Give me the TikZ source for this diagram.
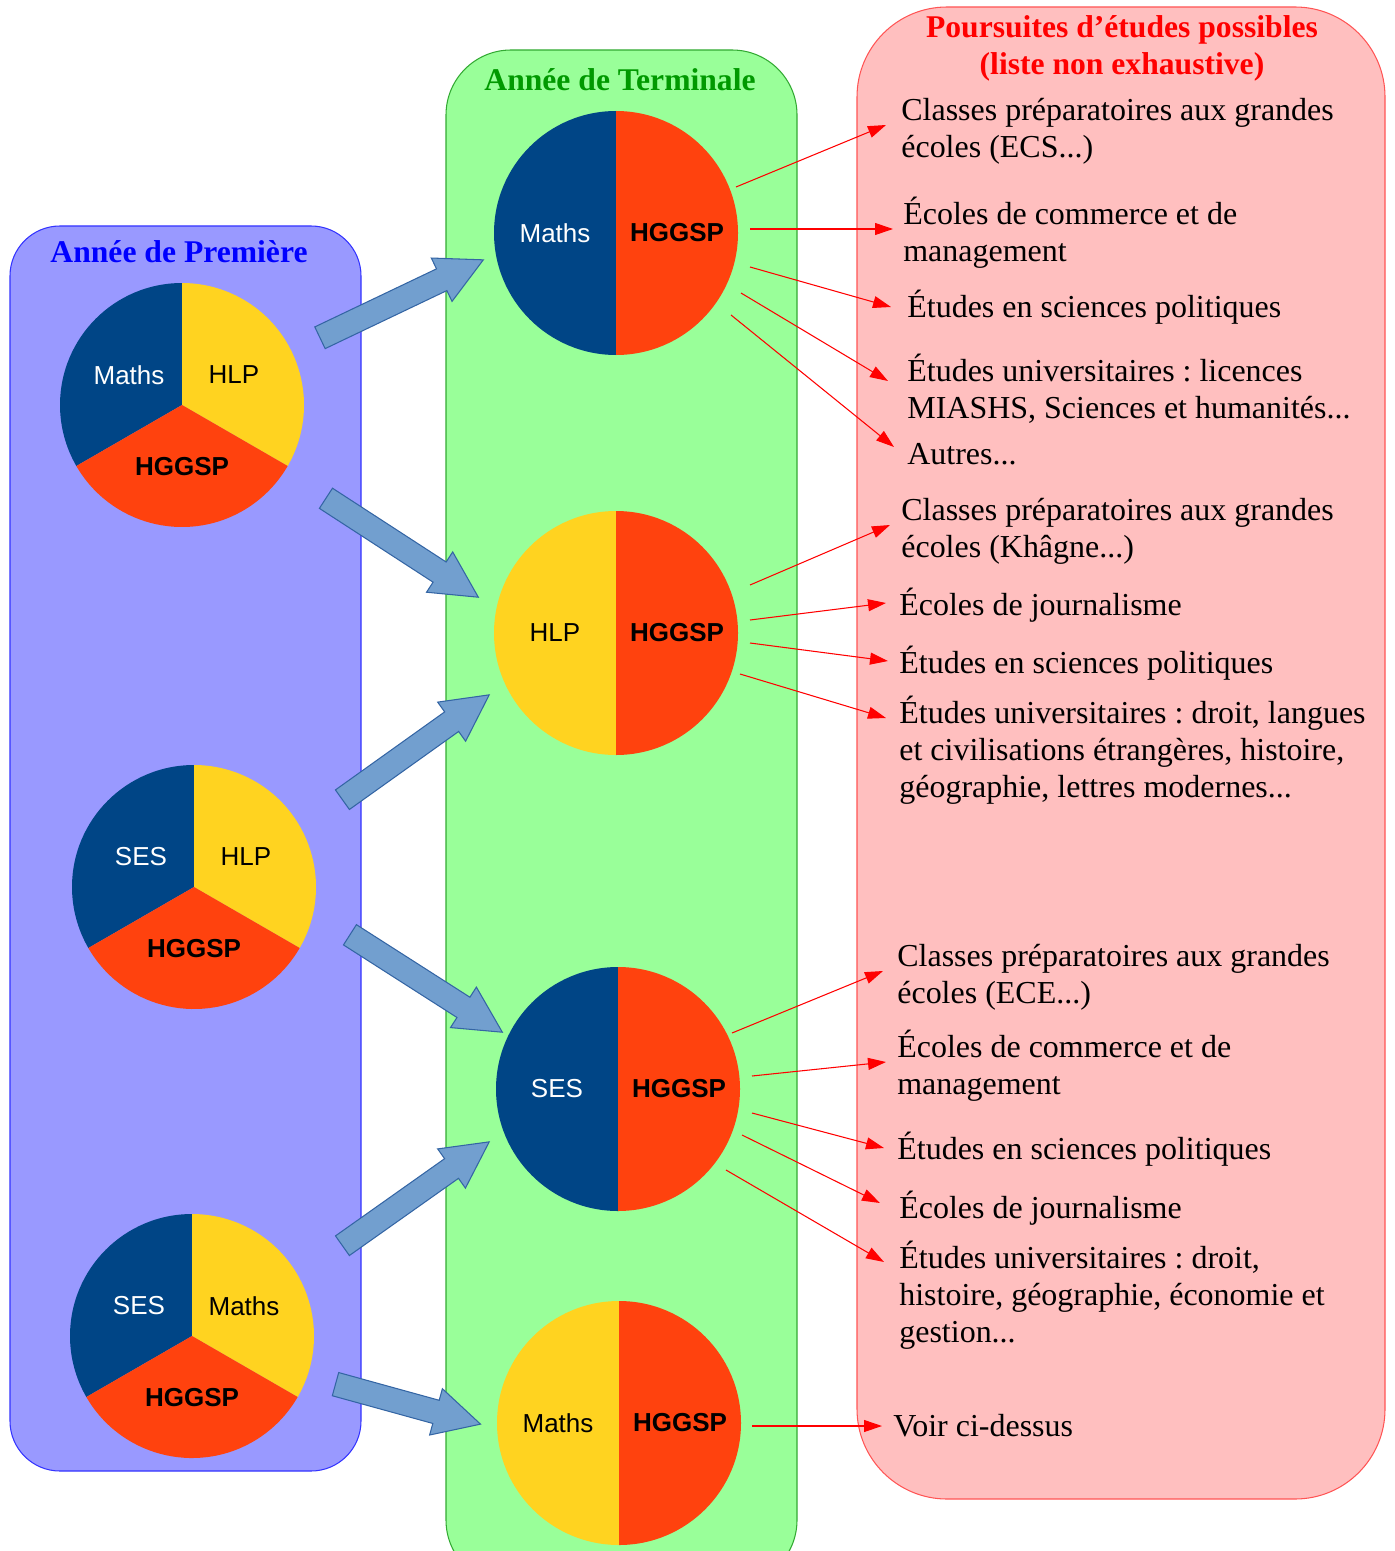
\documentclass[tikz,border=0pt]{standalone}
\usepackage{fontspec}
\setmainfont{Liberation Serif}
\setsansfont{Liberation Sans}
\frenchspacing
\usetikzlibrary{arrows.meta,shapes.arrows,calc,positioning}

\definecolor{bleupie}{HTML}{004586}
\definecolor{jaunepie}{HTML}{FFD320}
\definecolor{rougepie}{HTML}{FF420E}
\definecolor{fondpremiere}{HTML}{9999FF}
\definecolor{bordpremiere}{HTML}{3333FF}
\definecolor{fondterminale}{HTML}{99FF99}
\definecolor{bordterminale}{HTML}{33AA33}
\definecolor{fondsuite}{HTML}{FFBFBF}
\definecolor{bordsuite}{HTML}{FF5555}
\definecolor{fondfleche}{HTML}{729FCF}
\definecolor{bordfleche}{HTML}{3465A4}
\definecolor{vertitre}{HTML}{009900}

\begin{document}
\begin{tikzpicture}[x=0.02cm,y=-0.02cm,
	item/.style={anchor=west,inner sep=0pt,align=left,font=\fontsize{18.2}{21}\selectfont},
	etiq/.style={inner sep=0pt,font=\sffamily\fontsize{14.8}{17}\selectfont},
	etiqgras/.style={etiq,font=\sffamily\bfseries\fontsize{14.8}{17}\selectfont},
	titre/.style={inner sep=0pt,align=center,font=\bfseries\fontsize{18}{21}\selectfont},
	fleche/.style={red,line width=0.6pt,-{Triangle[length=0.36cm,width=0.24cm]}},
	grosse/.style={single arrow,draw=bordfleche,fill=fondfleche,line width=0.6pt,
		inner xsep=0pt,inner ysep=0.23cm,minimum width=0pt,
		single arrow head extend=0.24cm,single arrow tip angle=55,anchor=tail}]
	
	\useasboundingbox (0,0) rectangle (1394,1551);
	\clip (0,0) rectangle (1394,1551);
	
	% les trois colonnes
	\draw[fill=fondpremiere,draw=bordpremiere,line width=0.6pt,rounded corners=1cm] (10,226) rectangle (361,1471);
	\draw[fill=fondterminale,draw=bordterminale,line width=0.6pt,rounded corners=1.3cm] (446,50) rectangle (797,1585);
	\draw[fill=fondsuite,draw=bordsuite,line width=0.6pt,rounded corners=1.8cm] (857,7) rectangle (1385,1499);
	
	\node[titre,text=blue] (tprem) at (179,252) {Année de Première};
	\node[titre,text=vertitre] (tterm) at (620,80) {Année de Terminale};
	\node[titre,text=red] (tsuite) at (1122,48) {Poursuites d’études possibles\\(liste non exhaustive)};
	
	% Première
	\coordinate (p1) at (182,405);
	\coordinate (p2) at (194,887);
	\coordinate (p3) at (192,1336);
	
	\fill[bleupie] (p1) -- ++(-90:122) arc (-90:-210:122) -- cycle;
	\fill[jaunepie] (p1) -- ++(30:122) arc (30:-90:122) -- cycle;
	\fill[rougepie] (p1) -- ++(-210:122) arc (-210:-330:122) -- cycle;
	\node[etiq,text=white] (p1a) at ($(p1)+(-53,-30)$) {Maths};
	\node[etiq] (p1b) at ($(p1)+(52,-30)$) {HLP};
	\node[etiqgras] (p1c) at ($(p1)+(0,62)$) {HGGSP};
	
	\fill[bleupie] (p2) -- ++(-90:122) arc (-90:-210:122) -- cycle;
	\fill[jaunepie] (p2) -- ++(30:122) arc (30:-90:122) -- cycle;
	\fill[rougepie] (p2) -- ++(-210:122) arc (-210:-330:122) -- cycle;
	\node[etiq,text=white] (p2a) at ($(p2)+(-53,-30)$) {SES};
	\node[etiq] (p2b) at ($(p2)+(52,-30)$) {HLP};
	\node[etiqgras] (p2c) at ($(p2)+(0,62)$) {HGGSP};
	
	\fill[bleupie] (p3) -- ++(-90:122) arc (-90:-210:122) -- cycle;
	\fill[jaunepie] (p3) -- ++(30:122) arc (30:-90:122) -- cycle;
	\fill[rougepie] (p3) -- ++(-210:122) arc (-210:-330:122) -- cycle;
	\node[etiq,text=white] (p3a) at ($(p3)+(-53,-30)$) {SES};
	\node[etiq] (p3b) at ($(p3)+(52,-30)$) {Maths};
	\node[etiqgras] (p3c) at ($(p3)+(0,62)$) {HGGSP};
	
	% Terminale
	\coordinate (t1) at (616,233);
	\coordinate (t2) at (616,633);
	\coordinate (t3) at (618,1089);
	\coordinate (t4) at (619,1423);
	
	\fill[bleupie] (t1) -- ++(-90:122) arc (-90:-270:122) -- cycle;
	\fill[rougepie] (t1) -- ++(90:122) arc (90:-90:122) -- cycle;
	\node[etiq,text=white] (t1a) at ($(t1)+(-61,0)$) {Maths};
	\node[etiqgras] (t1b) at ($(t1)+(61,0)$) {HGGSP};
	
	\fill[jaunepie] (t2) -- ++(-90:122) arc (-90:-270:122) -- cycle;
	\fill[rougepie] (t2) -- ++(90:122) arc (90:-90:122) -- cycle;
	\node[etiq] (t2a) at ($(t2)+(-61,0)$) {HLP};
	\node[etiqgras] (t2b) at ($(t2)+(61,0)$) {HGGSP};
	
	\fill[bleupie] (t3) -- ++(-90:122) arc (-90:-270:122) -- cycle;
	\fill[rougepie] (t3) -- ++(90:122) arc (90:-90:122) -- cycle;
	\node[etiq,text=white] (t3a) at ($(t3)+(-61,0)$) {SES};
	\node[etiqgras] (t3b) at ($(t3)+(61,0)$) {HGGSP};
	
	\fill[jaunepie] (t4) -- ++(-90:122) arc (-90:-270:122) -- cycle;
	\fill[rougepie] (t4) -- ++(90:122) arc (90:-90:122) -- cycle;
	\node[etiq] (t4a) at ($(t4)+(-61,0)$) {Maths};
	\node[etiqgras] (t4b) at ($(t4)+(61,0)$) {HGGSP};
	
	% grosses fleches
	\coordinate (f1a) at ($(p1)+(137.5,-67)$);  \coordinate (f1b) at ($(t1)+(-133,27)$);
	\coordinate (f2a) at ($(p1)+(143.5,93)$);   \coordinate (f2b) at ($(t2)+(-138,-36)$);
	\coordinate (f3a) at ($(p2)+(148,-87)$);    \coordinate (f3b) at ($(t2)+(-127,62)$);
	\coordinate (f4a) at ($(p2)+(155.5,47.5)$); \coordinate (f4b) at ($(t3)+(-116,-57)$);
	\coordinate (f5a) at ($(p3)+(150,-90)$);    \coordinate (f5b) at ($(t3)+(-129,53)$);
	\coordinate (f6a) at ($(p3)+(143,48)$);     \coordinate (f6b) at ($(t4)+(-139,1)$);
	
	\path let \p1=($(f1b)-(f1a)$), \n1={atan2(\y1,\x1)}, \n2={veclen(\x1,\y1)} in node[grosse,rotate=\n1,minimum height=\n2] (g1) at (f1a) {};
	\path let \p1=($(f2b)-(f2a)$), \n1={atan2(\y1,\x1)}, \n2={veclen(\x1,\y1)} in node[grosse,rotate=\n1,minimum height=\n2] (g2) at (f2a) {};
	\path let \p1=($(f3b)-(f3a)$), \n1={atan2(\y1,\x1)}, \n2={veclen(\x1,\y1)} in node[grosse,rotate=\n1,minimum height=\n2] (g3) at (f3a) {};
	\path let \p1=($(f4b)-(f4a)$), \n1={atan2(\y1,\x1)}, \n2={veclen(\x1,\y1)} in node[grosse,rotate=\n1,minimum height=\n2] (g4) at (f4a) {};
	\path let \p1=($(f5b)-(f5a)$), \n1={atan2(\y1,\x1)}, \n2={veclen(\x1,\y1)} in node[grosse,rotate=\n1,minimum height=\n2] (g5) at (f5a) {};
	\path let \p1=($(f6b)-(f6a)$), \n1={atan2(\y1,\x1)}, \n2={veclen(\x1,\y1)} in node[grosse,rotate=\n1,minimum height=\n2] (g6) at (f6a) {};
	
	% poursuites d'etudes
	\node[item] (c1a) at (901,131.5) {Classes préparatoires aux grandes\\écoles (ECS...)};
	\node[item] (c1b) at (903,232.5) {Écoles de commerce et de\\management};
	\node[item] (c1c) at (907,307) {Études en sciences politiques};
	\node[item] (c1d) at (907,389) {Études universitaires : licences\\MIASHS, Sciences et humanités...};
	\node[item] (c1e) at (907,454) {Autres...};
	
	\node[item] (c2a) at (901,531.5) {Classes préparatoires aux grandes\\écoles (Khâgne...)};
	\node[item] (c2b) at (899,605) {Écoles de journalisme};
	\node[item] (c2c) at (899,663) {Études en sciences politiques};
	\node[item] (c2d) at (899,750.5) {Études universitaires : droit, langues\\et civilisations étrangères, histoire,\\géographie, lettres modernes...};
	
	\node[item] (c3a) at (897,977.5) {Classes préparatoires aux grandes\\écoles (ECE...)};
	\node[item] (c3b) at (897,1065.5) {Écoles de commerce et de\\management};
	\node[item] (c3c) at (897,1149) {Études en sciences politiques};
	\node[item] (c3d) at (899,1208) {Écoles de journalisme};
	\node[item] (c3e) at (899,1295) {Études universitaires : droit,\\histoire, géographie, économie et\\gestion...};
	
	\node[item] (c4a) at (893,1426) {Voir ci-dessus};
	
	% fleches rouges
	\draw[fleche] ($(t1)+(120,-46)$) -- ($(c1a.west)+(-15,-6.5)$);
	\draw[fleche] ($(t1)+(134,-4)$) -- ($(c1b.west)+(-10,-3.5)$);
	\draw[fleche] ($(t1)+(134,34)$) -- ($(c1c.west)+(-16,0)$);
	\draw[fleche] ($(t1)+(125,60)$) -- ($(c1d.west)+(-19,-8)$);
	\draw[fleche] ($(t1)+(115,82)$) -- ($(c1e.west)+(-13,-7)$);
	
	\draw[fleche] ($(t2)+(134,-48)$) -- ($(c2a.west)+(-11,-6.5)$);
	\draw[fleche] ($(t2)+(134,-13)$) -- ($(c2b.west)+(-13,-2)$);
	\draw[fleche] ($(t2)+(134,10)$) -- ($(c2c.west)+(-11,-2)$);
	\draw[fleche] ($(t2)+(124,41)$) -- ($(c2d.west)+(-13,-32.5)$);
	
	\draw[fleche] ($(t3)+(114,-56)$) -- ($(c3a.west)+(-14,-6.5)$);
	\draw[fleche] ($(t3)+(134,-13)$) -- ($(c3b.west)+(-11,-3.5)$);
	\draw[fleche] ($(t3)+(134,24)$) -- ($(c3c.west)+(-13,-1)$);
	\draw[fleche] ($(t3)+(124,46)$) -- ($(c3d.west)+(-19,-5)$);
	\draw[fleche] ($(t3)+(108,81)$) -- ($(c3e.west)+(-15,-33)$);
	
	\draw[fleche] ($(t4)+(133,3)$) -- ($(c4a.west)+(-11,0)$);
	
\end{tikzpicture}
\end{document}
